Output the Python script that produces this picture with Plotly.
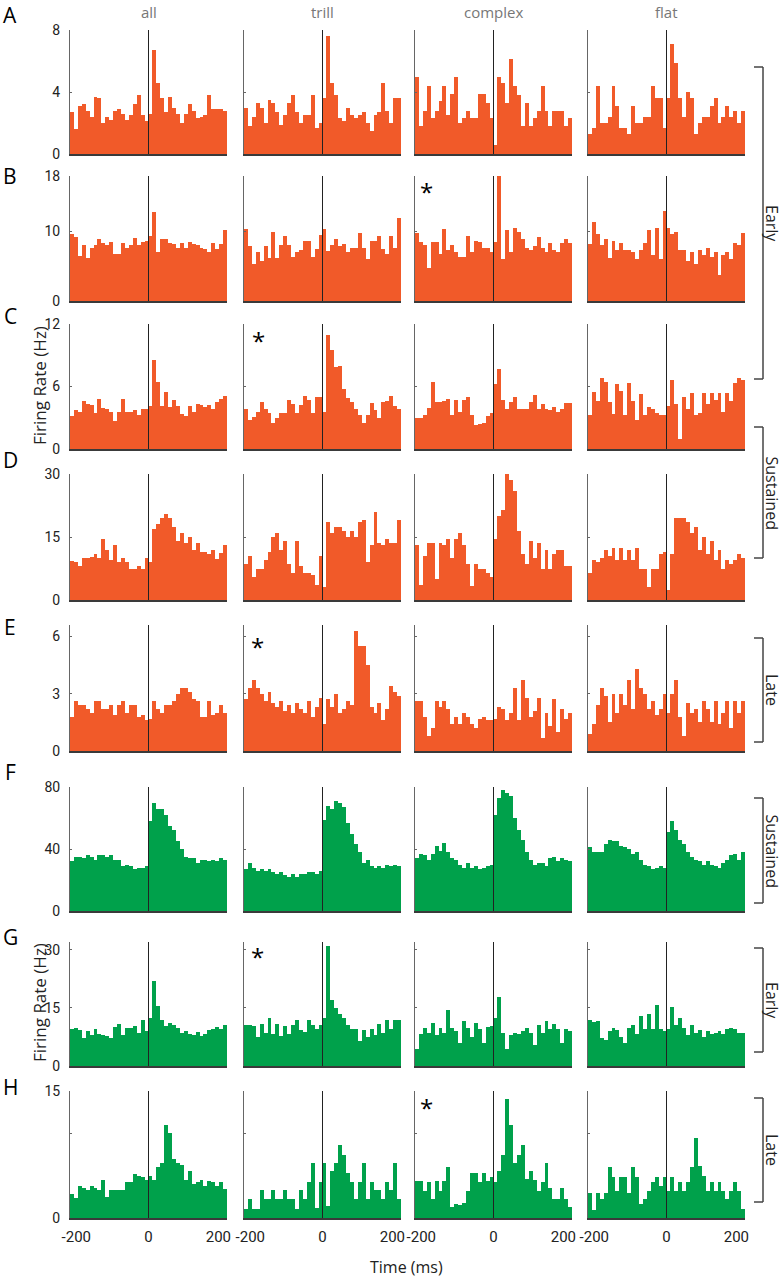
import plotly.graph_objects as go

# ---------------- data ----------------
columns = ["all", "trill", "complex", "flat"]
row_letters = ["A", "B", "C", "D", "E", "F", "G", "H"]
time_tick_text = ["-200", "0", "200"]
time_tick_pos = [-184, 0, 178]   # labels sit slightly inside the panel edges, as in the figure
bin_centers = [-195 + 10 * i for i in range(40)]

A_ticks = [0, 4, 8]
B_ticks = [0, 10, 18]
C_ticks = [0, 6, 12]
D_ticks = [0, 15, 30]
E_ticks = [0, 3, 6]
F_ticks = [0, 40, 80]
G_ticks = [0, 15, 30]
H_ticks = [0, 10, 15]
H_tick_text = ["0", "", "15"]

A_all = [2.7,1.6,3.1,3.2,2.8,2.4,3.7,3.6,2.0,2.4,2.2,2.8,2.9,2.6,2.2,2.5,3.2,3.8,2.5,2.1,
         2.6,6.7,4.6,3.6,2.7,3.7,3.0,2.6,2.0,2.6,3.2,2.8,2.3,2.4,2.5,3.8,2.9,2.9,2.9,2.8]
A_trill = [3.0,1.8,2.4,3.3,3.0,2.0,3.5,3.3,2.7,1.9,2.5,3.3,3.8,2.7,2.0,2.5,2.5,3.8,1.7,2.0,
           3.6,7.6,4.6,3.8,2.3,2.1,3.0,2.5,2.3,2.5,2.7,2.0,1.5,2.5,2.7,4.6,2.8,2.0,3.6,3.6]
A_complex = [5.0,1.8,2.8,4.4,2.3,2.8,3.4,4.4,2.5,3.9,5.0,2.0,2.3,2.8,2.3,2.3,3.9,3.9,3.3,2.3,
             0.6,5.0,4.6,3.3,6.1,4.4,3.8,1.8,3.3,1.8,2.3,2.8,4.4,2.8,1.8,2.8,2.8,2.8,1.8,2.3]
A_flat = [1.3,1.7,4.4,2.0,2.0,2.4,4.4,3.1,1.7,1.7,1.3,3.1,2.0,2.0,2.4,2.4,4.4,3.6,3.6,1.7,
          3.6,7.1,5.9,3.6,2.4,4.0,3.6,1.3,2.0,2.4,2.4,3.1,3.6,2.0,2.4,3.1,2.4,2.8,2.0,2.8]

B_all = [9.7,9.2,6.5,8.0,6.2,7.6,8.0,9.0,8.3,8.0,8.5,6.7,6.7,8.3,7.7,8.0,9.1,8.0,8.5,8.6,
         9.3,12.8,7.0,9.0,9.0,8.3,8.2,7.6,8.3,7.7,8.5,8.2,8.0,7.7,7.5,7.0,8.3,7.5,8.2,10.2]
B_trill = [10.4,7.9,5.3,7.0,5.7,7.9,6.2,9.9,6.2,8.0,9.4,8.0,6.3,7.0,7.3,8.7,8.7,6.3,7.5,9.5,
           10.4,7.2,8.0,9.0,7.9,8.2,7.0,7.6,7.6,9.8,7.7,6.0,8.7,8.7,9.3,7.5,6.8,9.3,7.7,12.0]
B_complex = [9.8,8.5,8.0,4.8,8.5,8.5,6.8,10.4,7.3,8.0,7.0,6.3,6.3,9.4,7.0,8.7,8.5,7.6,7.6,7.0,
             8.5,18.0,6.0,10.2,7.0,10.5,10.0,9.0,7.6,7.4,7.9,9.2,7.6,7.0,8.3,7.4,7.0,8.3,9.0,8.3]
B_flat = [8.2,11.4,9.7,8.0,9.0,6.2,8.7,7.4,8.3,7.4,7.3,7.0,6.0,7.4,8.3,10.2,6.6,10.5,6.0,13.0,
          10.5,9.7,10.0,7.4,7.3,5.7,7.0,5.3,7.4,6.6,7.6,6.4,7.0,3.7,6.6,7.0,6.0,8.3,8.0,9.8]

C_all = [3.2,3.7,3.6,4.6,4.3,4.2,3.5,4.8,3.9,3.8,3.6,2.7,3.6,4.8,3.6,3.6,3.7,3.3,3.8,3.8,
         4.1,8.5,6.4,4.1,5.5,4.0,4.7,4.1,3.4,3.2,4.1,3.6,4.3,4.2,4.0,4.2,3.8,4.5,4.8,5.1]
C_trill = [3.8,2.8,3.1,3.6,4.5,3.8,3.5,2.5,3.0,3.5,3.5,4.7,4.3,3.5,4.2,5.1,4.7,3.5,5.0,5.0,
           3.6,10.9,9.5,7.9,8.0,5.8,4.9,4.5,3.8,3.3,2.5,3.3,4.4,3.7,3.0,4.5,4.6,5.1,4.1,3.8]
C_complex = [3.0,3.0,3.3,3.9,6.4,4.5,4.5,4.6,4.8,3.3,4.7,3.6,4.7,5.0,3.3,2.3,2.4,2.5,3.2,3.5,
             6.2,7.7,4.7,3.8,4.5,5.0,3.8,3.8,3.8,4.5,5.2,3.8,4.3,3.8,3.7,4.0,3.6,3.8,4.4,4.4]
C_flat = [3.3,5.5,4.6,6.8,6.4,4.5,3.4,6.2,5.6,3.3,6.3,4.6,2.8,5.3,3.3,4.0,3.8,3.5,3.3,3.3,
          4.1,6.6,4.3,1.0,5.0,3.8,5.4,3.3,3.5,5.4,4.3,5.4,4.7,5.4,3.6,5.4,4.6,6.3,6.8,6.6]

D_all = [9.3,9.0,8.0,10.0,10.0,10.2,11.0,10.0,14.5,12.0,9.5,13.0,9.0,10.0,9.0,7.5,7.5,8.0,7.5,10.0,
         9.0,16.8,18.0,19.5,20.5,19.5,17.3,14.0,16.0,13.5,15.0,12.0,13.5,11.5,11.5,11.0,12.0,9.8,11.2,13.0]
D_trill = [8.5,10.5,5.5,7.5,7.5,9.5,11.5,15.0,16.0,12.0,14.0,8.5,6.5,14.0,8.0,6.5,6.5,6.0,3.5,10.5,
           3.0,18.5,16.0,17.5,17.5,16.5,15.0,16.5,15.0,18.5,19.0,9.0,13.0,21.0,13.5,13.0,14.5,13.5,13.5,19.0]
D_complex = [13.0,3.5,10.5,13.5,13.5,5.0,13.5,13.0,14.5,10.0,14.5,16.0,13.0,8.5,3.3,8.5,7.5,7.5,6.5,5.5,
             14.5,20.0,21.5,30.5,28.5,26.0,16.5,11.0,8.5,14.0,10.0,13.5,7.5,12.0,7.5,11.0,12.0,12.0,8.0,8.0]
D_flat = [6.5,9.5,9.0,10.0,12.0,10.5,12.5,9.5,12.5,9.5,12.0,9.5,12.5,7.5,7.5,3.0,7.5,7.5,11.0,11.5,
          2.5,11.0,19.5,19.5,19.5,18.5,16.0,17.5,12.0,15.0,11.0,14.0,9.5,12.0,7.5,9.5,8.5,9.5,11.0,10.0]

E_all = [1.8,2.6,2.4,2.4,2.2,2.0,2.6,2.6,2.2,2.2,2.4,1.9,2.4,2.6,2.0,2.4,2.4,1.8,1.9,1.6,
         1.7,2.6,2.2,2.0,2.4,2.4,2.6,3.0,3.3,3.3,3.1,2.7,2.6,1.8,1.8,2.6,1.9,2.0,2.4,2.0]
E_trill = [2.7,3.3,3.7,3.3,3.0,2.6,3.1,2.5,2.3,2.6,2.1,2.4,2.0,2.5,2.2,2.0,2.6,1.8,2.3,2.8,
           1.4,2.7,2.3,3.0,2.0,2.2,2.6,2.4,6.3,5.5,5.5,4.5,2.3,2.0,2.5,1.6,2.2,3.4,3.1,2.9]
E_complex = [2.6,2.6,1.8,0.8,1.2,2.6,2.3,2.6,2.2,1.4,1.8,1.4,2.0,1.8,1.4,1.2,1.7,1.8,1.6,1.6,
             1.7,2.3,2.2,1.6,2.0,3.3,1.6,3.7,2.8,1.8,2.1,2.8,0.7,2.0,1.3,2.7,1.0,2.2,1.7,2.0]
E_flat = [0.9,1.4,2.4,3.3,2.9,1.5,3.0,2.0,3.0,2.4,3.7,2.2,4.3,3.3,3.0,2.2,2.6,1.9,2.2,3.0,
          2.0,3.0,3.7,1.8,0.8,2.5,2.0,2.2,1.5,2.6,2.2,1.5,2.6,1.4,2.0,2.6,1.2,2.6,2.0,2.6]

F_all = [32,35,35,34,36,35,33,36,36,35,36,33,33,29,30,29,27,28,28,29,
         58,70,66,66,62,55,52,45,40,35,34,34,31,33,33,32,33,32,34,33]
F_trill = [27,31,28,26,27,26,27,25,24,25,23,22,24,22,24,24,25,25,24,26,
           59,68,66,71,70,67,57,50,43,38,31,33,29,28,29,28,30,29,30,29]
F_complex = [34,37,36,33,37,42,39,44,38,34,33,30,28,31,28,29,27,28,29,30,
             62,73,78,76,74,60,52,46,38,33,30,31,31,29,34,35,32,34,33,32]
F_flat = [41,38,38,38,43,46,45,45,42,41,40,37,38,33,30,29,27,28,29,28,
          51,58,52,46,43,38,35,33,32,30,32,30,29,28,31,33,36,37,33,38]

G_all = [9.6,9.8,9.4,7.2,9.1,8.0,9.6,8.2,8.0,7.8,7.2,10.0,10.8,8.0,9.8,9.8,10.2,8.4,12.0,9.0,
         12.5,22.0,15.5,12.0,10.3,11.0,10.5,9.7,8.5,9.0,8.3,8.0,8.7,7.8,8.3,9.2,9.5,10.0,9.5,10.5]
G_trill = [10.5,10.5,10.3,7.5,10.8,8.5,12.5,8.3,10.8,7.7,10.2,8.3,10.5,12.0,9.2,8.8,12.0,10.5,9.5,10.5,
           12.5,31.0,17.0,15.0,13.5,12.5,10.5,9.5,9.5,6.5,9.3,7.5,9.5,8.0,10.8,8.5,12.0,9.5,12.0,12.0]
G_complex = [4.5,8.2,9.8,8.5,11.0,8.0,9.7,8.5,14.5,9.8,9.0,6.0,11.5,9.8,7.5,11.0,9.5,6.0,10.0,10.2,
             12.5,17.8,8.5,4.5,8.0,8.5,8.2,9.0,9.8,8.5,5.5,10.5,8.5,11.5,9.5,10.8,9.5,6.0,9.5,9.0]
G_flat = [12.0,11.3,11.5,7.3,6.8,9.0,9.7,9.2,7.5,6.0,9.7,10.5,8.3,13.0,9.5,13.3,9.5,15.8,9.5,9.0,
          9.5,15.3,10.5,12.5,9.7,8.0,10.5,8.5,9.3,7.5,9.0,8.3,8.5,9.0,8.3,9.5,9.7,9.5,8.5,8.5]

H_all = [2.8,2.4,3.8,3.5,3.3,3.8,3.5,3.3,4.5,2.5,3.3,3.3,3.3,3.3,4.3,4.3,5.2,5.0,4.8,4.5,
         5.0,4.5,6.0,6.5,11.0,10.0,7.0,6.5,6.3,4.5,5.5,4.0,4.3,4.5,3.8,4.4,4.2,3.8,4.3,3.4]
H_trill = [1.1,2.2,1.1,1.1,3.3,2.2,2.2,3.3,2.2,2.2,3.3,2.2,2.2,1.1,3.3,2.2,4.3,6.5,1.2,4.3,
           6.5,1.4,5.5,6.5,8.6,7.4,5.3,4.3,2.2,4.3,6.5,2.2,4.3,3.3,3.3,2.2,4.3,3.3,6.5,2.2]
H_complex = [4.4,4.4,3.2,4.2,2.2,4.4,3.2,4.4,6.0,1.3,1.6,1.5,1.8,3.2,5.3,5.3,4.2,5.3,4.4,4.8,
             4.3,5.5,7.5,14.0,11.0,6.5,7.5,8.6,4.6,5.6,4.5,3.2,4.3,6.5,3.5,2.2,2.3,3.5,2.3,1.3]
H_flat = [3.0,1.0,3.0,2.2,3.0,6.0,4.8,3.2,4.8,4.8,3.0,6.0,4.8,1.6,2.2,3.2,4.3,4.8,3.8,4.8,
          3.2,4.8,3.2,4.3,3.2,4.3,6.0,9.4,6.2,5.0,3.2,4.3,3.2,4.3,3.2,2.2,3.2,4.3,3.2,1.1]

bracket_labels = ["Early", "Sustained", "Late", "Sustained", "Early", "Late"]

# ---------------- layout ----------------
W, H = 784, 1281
ORANGE = "#F15A29"
GREEN = "#00A14B"
TICKFONT = "Roboto, Open Sans, sans-serif"
SANS = "Open Sans, Noto Sans, sans-serif"

rows = [
    (A_all, A_trill, A_complex, A_flat, A_ticks, None, 8, ORANGE),
    (B_all, B_trill, B_complex, B_flat, B_ticks, None, 18, ORANGE),
    (C_all, C_trill, C_complex, C_flat, C_ticks, None, 12, ORANGE),
    (D_all, D_trill, D_complex, D_flat, D_ticks, None, 30, ORANGE),
    (E_all, E_trill, E_complex, E_flat, E_ticks, None, 6.6, ORANGE),
    (F_all, F_trill, F_complex, F_flat, F_ticks, None, 80, GREEN),
    (G_all, G_trill, G_complex, G_flat, G_ticks, None, 32, GREEN),
    (H_all, H_trill, H_complex, H_flat, H_ticks, H_tick_text, 15, GREEN),
]
rows_px = [(30, 154), (176, 301), (324, 449), (474, 600), (625, 751),
           (787, 911), (942, 1066), (1091, 1218)]
cols_px = [(70, 227), (244, 401), (415, 572), (588, 745)]


def px(x):
    return x / W


def py(y):
    return 1 - y / H


def note(text, x, y, size, color="#222", family=SANS, angle=0):
    return dict(text=text, x=px(x), y=py(y), xref="paper", yref="paper",
                xanchor="center", yanchor="middle", textangle=angle,
                showarrow=False, font=dict(family=family, size=size, color=color))


fig = go.Figure()
layout = dict(width=W, height=H, margin=dict(l=0, r=0, t=0, b=0, pad=0, autoexpand=False),
              paper_bgcolor="white", plot_bgcolor="white",
              showlegend=False, bargap=0)
shapes = []
annotations = []

for r, row in enumerate(rows):
    series = row[:4]
    ticks, ticktext, ymax, color = row[4], row[5], row[6], row[7]
    top, bot = rows_px[r]
    for c in range(4):
        idx = r * 4 + c + 1
        xa = "x" if idx == 1 else f"x{idx}"
        ya = "y" if idx == 1 else f"y{idx}"
        fig.add_trace(go.Bar(x=bin_centers, y=series[c], width=10,
                             marker=dict(color=color, line=dict(width=0)),
                             xaxis=xa, yaxis=ya, hoverinfo="skip"))
        l, rr = cols_px[c]
        layout["xaxis" if idx == 1 else f"xaxis{idx}"] = dict(
            domain=[px(l), px(rr)], anchor=ya, range=[-200, 200], automargin=False,
            showgrid=False, zeroline=False, showline=True,
            linecolor="#3a3a3a", linewidth=2, ticks="",
            tickvals=time_tick_pos, ticktext=time_tick_text,
            showticklabels=(r == 7), ticklabelstandoff=4,
            tickfont=dict(family=TICKFONT, size=15, color="#222"),
            fixedrange=True)
        layout["yaxis" if idx == 1 else f"yaxis{idx}"] = dict(
            domain=[py(bot), py(top)], anchor=xa, range=[0, ymax], automargin=False,
            showgrid=False, zeroline=False, showline=True,
            linecolor="#666", linewidth=1, ticks="inside", ticklen=2,
            tickcolor="#666", tickvals=ticks,
            ticktext=ticktext if ticktext else [str(t) for t in ticks],
            showticklabels=(c == 0), ticklabelstandoff=6,
            tickfont=dict(family=TICKFONT, size=14, color="#222"),
            fixedrange=True)
        shapes.append(dict(type="line", xref=xa, yref=f"{ya} domain",
                           x0=0, x1=0, y0=0, y1=1, layer="above",
                           line=dict(color="#222", width=1)))

# column titles
for c, name in enumerate(columns):
    l, rr = cols_px[c]
    annotations.append(note(name, (l + rr) / 2, 12, 15, color="#777"))

# row letters
letter_y = [14.5, 176, 316, 460, 627, 772, 937, 1087]
for r, L in enumerate(row_letters):
    annotations.append(note(L, 10, letter_y[r], 21, color="black"))

# y-axis titles
for yc in (386, 1003):
    annotations.append(note("Firing Rate (Hz)", 39, yc, 17, angle=-90))

# x-axis title
annotations.append(note("Time (ms)", 406, 1267, 16))

# brackets
brackets_px = [(67, 379), (427, 558), (638, 742), (798, 903), (948, 1052), (1098, 1202)]
bx = 763
for (t, b), lab in zip(brackets_px, bracket_labels):
    shapes.append(dict(type="line", xref="paper", yref="paper", x0=px(bx), x1=px(bx),
                       y0=py(t), y1=py(b), line=dict(color="#444", width=1.5)))
    for yy in (t, b):
        shapes.append(dict(type="line", xref="paper", yref="paper", x0=px(754), x1=px(bx),
                           y0=py(yy), y1=py(yy), line=dict(color="#444", width=1.5)))
    annotations.append(note(lab, 772, (t + b) / 2, 16, angle=90))

# significance asterisks
stars = [(427, 188), (258, 336), (257, 642), (257, 952), (427, 1103)]
for sx, sy in stars:
    annotations.append(note("*", sx, sy + 4, 24, color="black"))

layout["shapes"] = shapes
layout["annotations"] = annotations
fig.update_layout(**layout)
fig.write_html("out.html", config={"displayModeBar": False, "staticPlot": True},
               post_script="document.body.style.margin='0px';document.body.style.padding='0px';")
